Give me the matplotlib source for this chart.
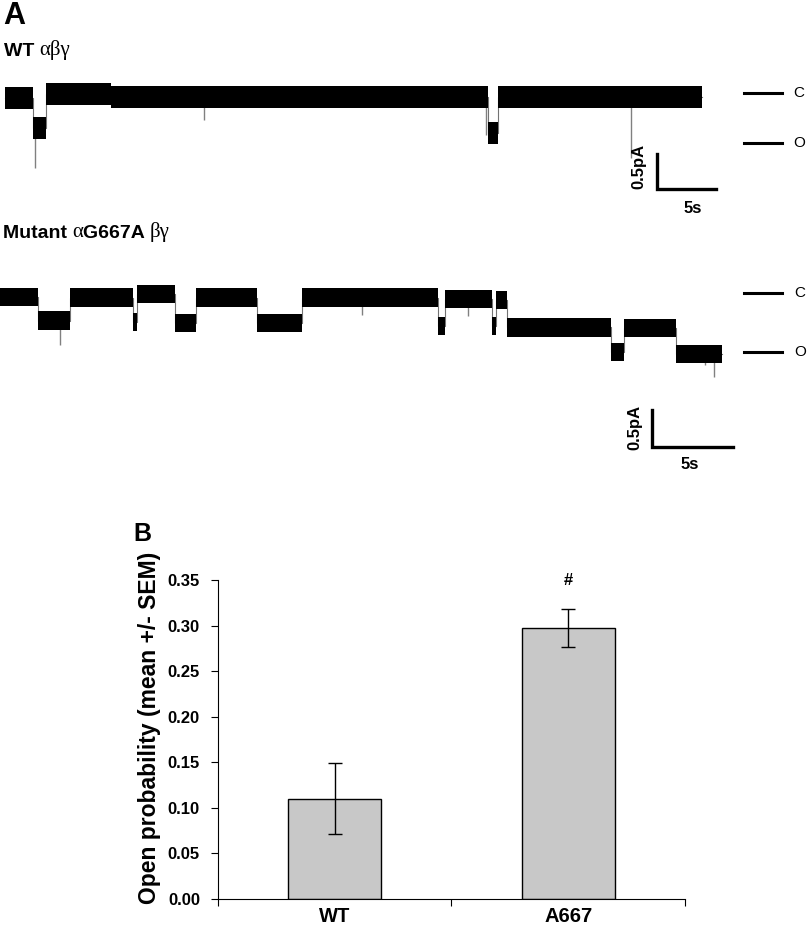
import numpy as np
import matplotlib
matplotlib.use('Agg')
from matplotlib import pyplot as plt

plt.rcParams['font.family'] = ['Liberation Sans', 'DejaVu Sans']

# ---- panel A: single channel records (step levels, seconds / pA) ----
# WT trace
wt_edges = [0, 2.4, 3.5, 9.0, 40.9, 41.8, 59.1]
wt_levels = [-0.01, -0.44, 0.04, 0.0, -0.51, 0.0]
wt_spike_t = [2.54, 16.9, 40.76, 53.05]
wt_spike_lo = [-1.01, -0.33, -0.54, -0.87]

# mutant trace
mut_edges = [0, 2.35, 4.32, 8.21, 8.46, 10.80, 12.10, 15.86, 18.64, 27.04,
             27.47, 30.37, 30.62, 31.30, 37.72, 38.52, 41.73, 44.57]
mut_levels = [0.0, -0.32, -0.01, -0.34, 0.04, -0.35, -0.01, -0.35, -0.01,
              -0.39, -0.03, -0.39, -0.04, -0.41, -0.74, -0.42, -0.77]
mut_spike_t = [3.70, 22.35, 28.9, 43.5, 44.1]
mut_spike_lo = [-0.65, -0.24, -0.26, -0.92, -1.08]

# ---- panel B: open probability ----
groups = ['WT', 'A667']
po_mean = [0.110, 0.297]
po_sem = [0.039, 0.021]

W, H = 812, 930
fig = plt.figure(figsize=(8.12, 9.30), dpi=100)


def trace_axes(top, bottom, s_px, pa_px, x0, y0):
    ax = fig.add_axes([0, 1 - bottom / H, 1, (bottom - top) / H])
    ax.set_xlim(-x0 / s_px, (W - x0) / s_px)
    ax.set_ylim(-(bottom - y0) / pa_px, -(top - y0) / pa_px)
    ax.axis('off')
    return ax


def draw_trace(ax, edges, levels, half, spike_t, spike_lo):
    e = np.asarray(edges, float)
    lv = np.append(levels, levels[-1])
    ax.fill_between(e, lv - half, lv + half, step='post', color='black', lw=0, zorder=3)
    ax.step(e, lv, where='post', color='0.45', lw=0.8, zorder=1)
    for t, lo in zip(spike_t, spike_lo):
        base = lv[np.searchsorted(e, t, 'right') - 1]
        ax.vlines(t, lo, base, color='0.5', lw=1.0, zorder=2)


def markers(ax, c_y, o_y, x1, x2, xt, bar_x, bar_y, sec, lab_x, lab_y, s_x, s_y):
    for y, s in [(c_y, 'C'), (o_y, 'O')]:
        ax.plot([x1, x2], [y, y], color='black', lw=2.2, clip_on=False)
        ax.text(xt, y, s, fontsize=11, va='center', ha='left')
    ax.plot([bar_x, bar_x, bar_x + sec], [bar_y, bar_y - 0.5, bar_y - 0.5],
            color='black', lw=2.4, solid_joinstyle='miter', clip_on=False)
    ax.text(lab_x, lab_y, '0.5pA', rotation=90, fontsize=12, fontweight='bold',
            ha='center', va='center')
    ax.text(s_x, s_y, '5s', fontsize=12, fontweight='bold', ha='center', va='center')


ax1 = trace_axes(60, 215, 11.8, 70, 5, 97)
draw_trace(ax1, wt_edges, wt_levels, 0.16, wt_spike_t, wt_spike_lo)
markers(ax1, 0.057, -0.657, 62.6, 65.85, 66.8, 55.25, -0.814, 5,
        53.7, -0.986, 58.3, -1.586)

ax2 = trace_axes(245, 480, 16.2, 74, 0, 297)
draw_trace(ax2, mut_edges, mut_levels, 0.125, mut_spike_t, mut_spike_lo)
markers(ax2, 0.054, -0.743, 45.9, 48.3, 49.0, 40.25, -1.527, 5,
        39.2, -1.757, 42.6, -2.27)

# labels of panel A
fig.text(3 / W, 1 - 24 / H, 'A', fontsize=22, fontweight='bold', va='baseline')


def rich(x, y, parts, size):
    prev = None
    for s, bold in parts:
        kw = dict(fontsize=size if bold else size + 1,
                  fontweight='bold' if bold else 'normal',
                  family='Liberation Sans' if bold else 'Liberation Serif')
        if prev is None:
            prev = fig.text(x / W, 1 - y / H, s, va='baseline', **kw)
        else:
            prev = ax1.annotate(s, xy=(1, 0), xycoords=prev, va='bottom', ha='left',
                                annotation_clip=False, **kw)


rich(4, 56, [('WT ', True), ('\u03b1\u03b2\u03b3', False)], 14)
rich(3, 238, [('Mutant ', True), ('\u03b1', False), ('G667A ', True),
              ('\u03b2\u03b3', False)], 14)

# ---- panel B ----
axb = fig.add_axes([218 / W, 1 - 899 / H, (685 - 218) / W, (899 - 580) / H])
x = np.arange(len(groups))
axb.bar(x, po_mean, width=0.4, color='#c8c8c8', edgecolor='black', linewidth=1,
        yerr=po_sem, capsize=5, error_kw=dict(elinewidth=1, capthick=1), zorder=2)
axb.set_xlim(-0.5, 1.5)
axb.set_ylim(0, 0.35)
axb.set_yticks(np.arange(0, 0.351, 0.05))
axb.set_yticklabels(['%.2f' % v for v in np.arange(0, 0.351, 0.05)],
                    fontsize=12, fontweight='bold')
axb.set_xticks([-0.5, 0.5, 1.5])
axb.set_xticklabels([])
axb.set_xticks(x, minor=True)
axb.set_xticklabels(groups, minor=True, fontsize=14.5, fontweight='bold')
axb.tick_params(axis='x', which='minor', length=0, pad=6)
axb.tick_params(axis='x', which='major', length=5, direction='out')
axb.tick_params(axis='y', length=5, direction='out', pad=8)
for sp in ['top', 'right']:
    axb.spines[sp].set_visible(False)
axb.text(1, 0.35, '#', ha='center', va='center', fontsize=12, fontweight='bold')

fig.text(150 / W, 1 - 728 / H, 'Open probability (mean +/- SEM)', rotation=90,
         fontsize=16.5, fontweight='bold', ha='center', va='center')
fig.text(133 / W, 1 - 541 / H, 'B', fontsize=18, fontweight='bold', va='baseline')

fig.savefig('out.png', dpi=100)
